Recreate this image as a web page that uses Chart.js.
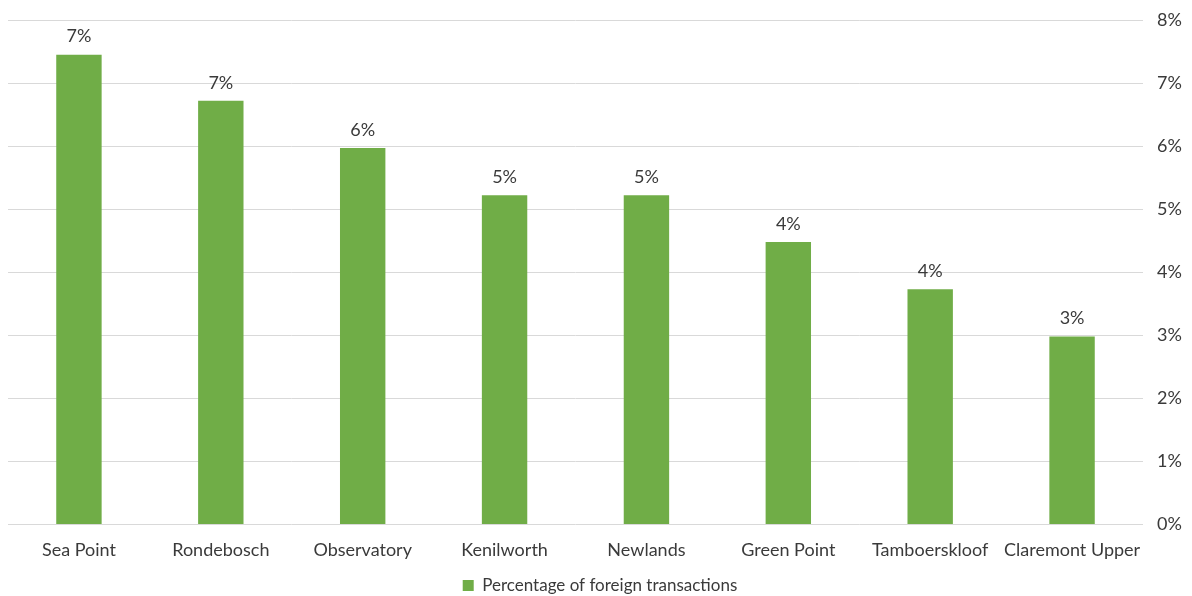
<!DOCTYPE html>
<html lang="en">
<head>
    <meta charset="UTF-8">
    <title>Percentage of foreign transactions</title>
    <script src="https://cdn.jsdelivr.net/npm/chart.js@4.4.1/dist/chart.umd.min.js"></script>
    <style>
        body {
            margin: 0;
            background-color: #fff;
        }
        .wrap {
            width: 1192px;
            height: 596px;
        }
    </style>
</head>
<body>
    <div class="wrap">
        <canvas id="chart" width="1192" height="596"></canvas>
    </div>

    <script>
        const suburbs = ['Sea Point', 'Rondebosch', 'Observatory', 'Kenilworth', 'Newlands', 'Green Point', 'Tamboerskloof', 'Claremont Upper'];
        const foreignShare = [7.45, 6.72, 5.97, 5.22, 5.22, 4.48, 3.73, 2.98];
        const seriesName = 'Percentage of foreign transactions';
        const barColour = '#70ad47';
        const textColour = '#3a3a3a';
        const fontFamily = 'Lato, "Open Sans", sans-serif';

        // value labels on top of the bars, rounded like the original
        const barLabels = {
            id: 'barLabels',
            afterDatasetsDraw(chart) {
                const ctx = chart.ctx;
                const meta = chart.getDatasetMeta(0);
                ctx.save();
                ctx.font = '18px ' + fontFamily;
                ctx.fillStyle = textColour;
                ctx.textAlign = 'center';
                ctx.textBaseline = 'bottom';
                meta.data.forEach((bar, i) => {
                    ctx.fillText(Math.round(foreignShare[i]) + '%', bar.x, bar.y - 9);
                });
                ctx.restore();
            }
        };

        new Chart(document.getElementById('chart'), {
            type: 'bar',
            data: {
                labels: suburbs,
                datasets: [{
                    label: seriesName,
                    data: foreignShare,
                    backgroundColor: barColour,
                    categoryPercentage: 1,
                    barPercentage: 0.32
                }]
            },
            options: {
                responsive: false,
                animation: false,
                layout: {
                    padding: { top: 20, right: 0, left: 8, bottom: -8 }
                },
                plugins: {
                    tooltip: { enabled: false },
                    legend: {
                        position: 'bottom',
                        labels: {
                            boxWidth: 11,
                            boxHeight: 11,
                            color: textColour,
                            font: { family: fontFamily, size: 17 },
                            padding: 3
                        }
                    }
                },
                scales: {
                    x: {
                        grid: { display: false },
                        border: { display: false },
                        ticks: {
                            color: textColour,
                            font: { family: fontFamily, size: 18 },
                            maxRotation: 0,
                            padding: 7
                        },
                        afterFit: scale => { scale.height += 6; }
                    },
                    y: {
                        position: 'right',
                        min: 0,
                        max: 8,
                        grid: { color: '#d9d9d9', drawTicks: false },
                        border: { display: false },
                        ticks: {
                            stepSize: 1,
                            padding: 14,
                            color: textColour,
                            font: { family: fontFamily, size: 18 },
                            callback: v => v + '%'
                        },
                        afterFit: scale => {
                            scale.width = 49;
                            scale.paddingTop = 0;
                        }
                    }
                }
            },
            plugins: [barLabels]
        });
    </script>
</body>
</html>
